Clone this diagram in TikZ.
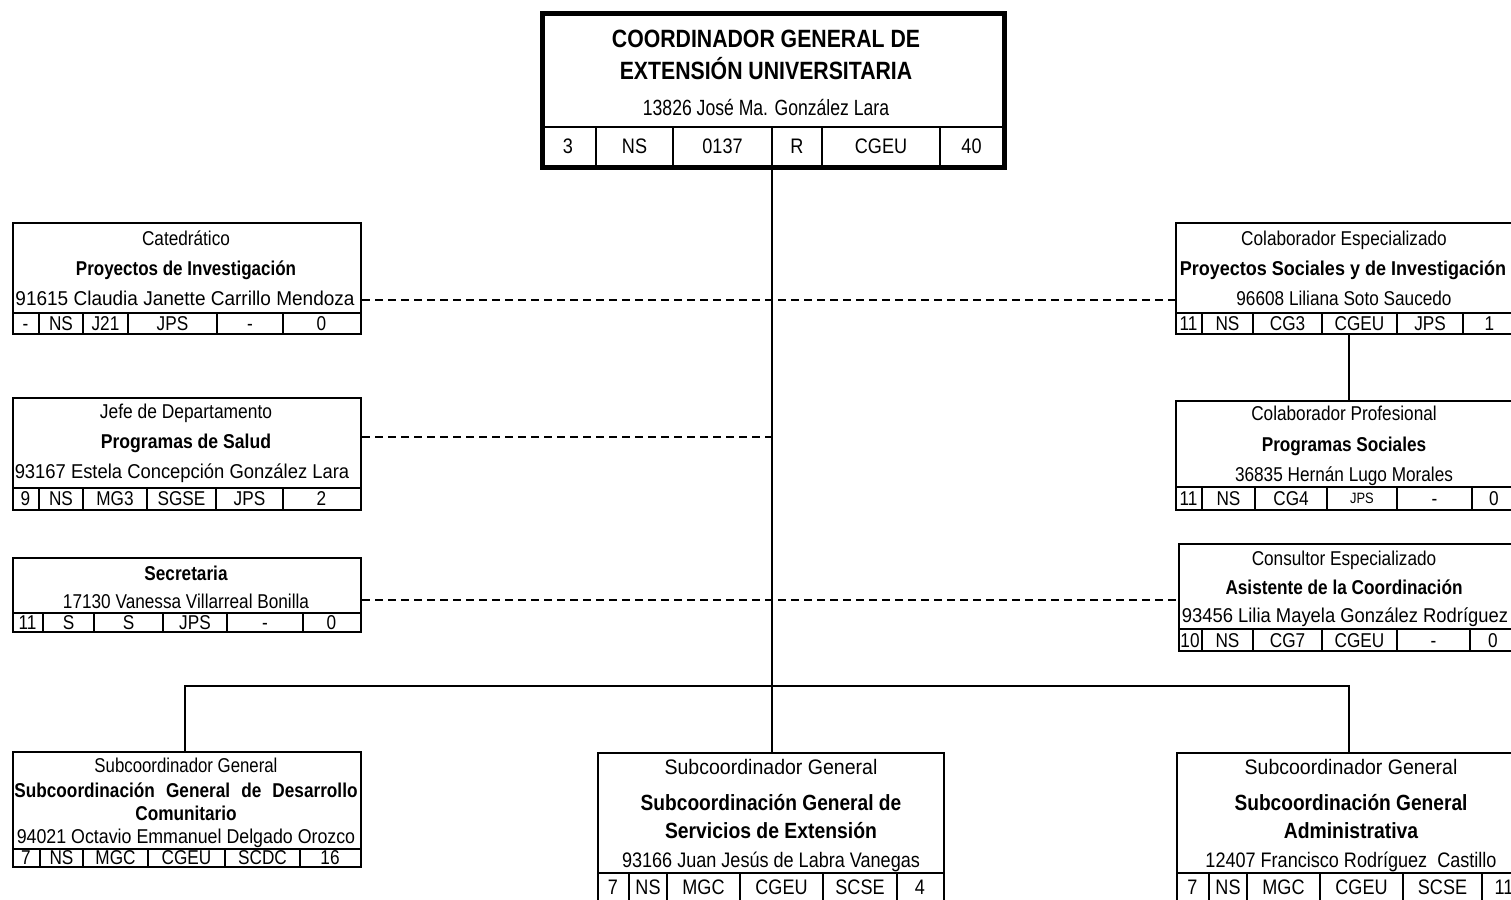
\documentclass[tikz,border=0pt]{standalone}
\usepackage{fontspec}
\setmainfont{Liberation Sans}
\usepackage{graphicx}
\newcommand\T[3]{{\fontsize{#1}{#1}\selectfont\scalebox{#2}[1]{#3}}}
\newcommand\B[3]{{\fontsize{#1}{#1}\selectfont\bfseries\scalebox{#2}[1]{#3}}}
\newcommand\cells[4]{\foreach \x/\t [count=\i] in {#4} {\node[t] (#1-\i) at (\x,#2) {\T{#3}{0.86}{\t}};}}
\newcommand\divs[4]{\foreach \x in {#1} {\draw[cellline] (\x,#2) -- (\x,#3);}}
\begin{document}
\begin{tikzpicture}[x=1pt,y=-1pt,
  box/.style={draw,line width=2pt,inner sep=0pt,anchor=north west},
  t/.style={anchor=base,inner sep=0pt},
  conn/.style={line width=1.5pt},
  dashline/.style={line width=1.3pt,dash pattern=on 8pt off 5pt},
  cellline/.style={line width=2pt}]
\fill[white] (0,0) rectangle (1511,899);
\useasboundingbox (0,0) rectangle (1511,899);

% ---------- boxes ----------
\node[box,line width=5pt,minimum width=462pt,minimum height=154pt] (top) at (540,11) {};
\node[box,minimum width=348pt,minimum height=111pt] (cat) at (12,222) {};
\node[box,minimum width=348pt,minimum height=112pt] (jefe) at (12,397) {};
\node[box,minimum width=348pt,minimum height=74pt] (sec) at (12,557) {};
\node[box,minimum width=341pt,minimum height=111pt] (r1) at (1175,222) {};
\node[box,minimum width=341pt,minimum height=109pt] (r2) at (1175,400) {};
\node[box,minimum width=338pt,minimum height=107pt] (r3) at (1178,543) {};
\node[box,minimum width=348pt,minimum height=115pt] (bl) at (12,751) {};
\node[box,minimum width=346pt,minimum height=150pt] (bc) at (597,752) {};
\node[box,minimum width=350pt,minimum height=150pt] (br) at (1176,752) {};

% ---------- table lines ----------
\draw[cellline] (540,127) -- (1002,127); \divs{596,673,772,822,940}{127}{165}{}
\draw[cellline] (12,313) -- (360,313); \divs{39,83,128,217,283}{313}{333}{}
\draw[cellline] (12,488) -- (360,488); \divs{39,83,147,216,283}{488}{509}{}
\draw[cellline] (12,613) -- (360,613); \divs{43,94,163,227,303}{613}{631}{}
\draw[cellline] (1175,313) -- (1516,313); \divs{1202,1253,1322,1397,1463}{313}{333}{}
\draw[cellline] (1175,487) -- (1516,487); \divs{1202,1255,1327,1397,1472}{487}{509}{}
\draw[cellline] (1178,629) -- (1516,629); \divs{1202,1253,1322,1397,1470}{629}{650}{}
\draw[cellline] (12,849) -- (360,849); \divs{40,83,148,225,300}{849}{866}{}
\draw[cellline] (597,873) -- (943,873); \divs{629,667,740,823,897}{873}{902}{}
\draw[cellline] (1176,873) -- (1526,873); \divs{1209,1247,1320,1403,1482}{873}{902}{}

% ---------- connectors ----------
\coordinate (jc) at (772,686);
\coordinate (hl) at (185,686);
\coordinate (hr) at (1349,686);
\coordinate (ya) at (0,300);
\coordinate (yb) at (0,437);
\coordinate (yc) at (0,600);
\draw[conn] (top.south -| jc) -- (bc.north -| jc);
\draw[conn] (bl.north -| hl) -- (hl) -- (hr) -- (br.north -| hr);
\draw[conn] (r1.south -| hr) -- (r2.north -| hr);
\draw[dashline] (cat.east |- ya) -- (r1.west |- ya);
\draw[dashline] (jefe.east |- yb) -- (jc |- yb);
\draw[dashline] (sec.east |- yc) -- (r3.west |- yc);

% ---------- top box text ----------
\node[t] (tt1) at (766,48) {\B{25}{0.85}{COORDINADOR GENERAL DE}};
\node[t] (tt2) at (766,79) {\B{25}{0.85}{EXTENSIÓN UNIVERSITARIA}};
\node[t] (tt3) at (766,115) {\T{22}{0.8}{13826 José Ma. González Lara}};
\cells{tc}{153.5}{21}{568/3,634.5/NS,722.5/0137,797/R,881/CGEU,971.5/40}

% ---------- Catedrático ----------
\node[t] (c1) at (186,245) {\T{20}{0.86}{Catedrático}};
\node[t] (c2) at (186,275) {\B{20}{0.85}{Proyectos de Investigación}};
\node[t] (c3) at (185,305) {\T{20}{0.95}{91615 Claudia Janette Carrillo Mendoza}};
\cells{cc}{330}{20}{25.5/-,61/NS,105.5/J21,172.5/JPS,250/-,321.5/0}

% ---------- Jefe ----------
\node[t] (j1) at (186,418) {\T{20}{0.87}{Jefe de Departamento}};
\node[t] (j2) at (186,448) {\B{20}{0.88}{Programas de Salud}};
\node[t] (j3) at (182,478) {\T{20}{0.92}{93167 Estela Concepción González Lara}};
\cells{jc}{505.5}{20}{25.5/9,61/NS,115/MG3,181.5/SGSE,249.5/JPS,321.5/2}

% ---------- Secretaria ----------
\node[t] (s1) at (186,580) {\B{20}{0.86}{Secretaria}};
\node[t] (s2) at (186,608) {\T{20}{0.86}{17130 Vanessa Villarreal Bonilla}};
\cells{sc}{629}{20}{27.5/11,68.5/S,128.5/S,195/JPS,265/-,331.5/0}

% ---------- R1 ----------
\node[t] (a1) at (1344,245) {\T{20}{0.86}{Colaborador Especializado}};
\node[t] (a2) at (1343,275) {\B{20}{0.9}{Proyectos Sociales y de Investigación}};
\node[t] (a3) at (1344,305) {\T{20}{0.86}{96608 Liliana Soto Saucedo}};
\cells{ac}{330}{20}{1188.5/11,1227.5/NS,1287.5/CG3,1359.5/CGEU,1430/JPS,1489.5/1}

% ---------- R2 ----------
\node[t] (b1) at (1344,420) {\T{20}{0.86}{Colaborador Profesional}};
\node[t] (b2) at (1344,451) {\B{20}{0.86}{Programas Sociales}};
\node[t] (b3) at (1344,481) {\T{20}{0.86}{36835 Hernán Lugo Morales}};
\cells{bc}{505}{20}{1188.5/11,1228.5/NS,1291/CG4,1434.5/-,1494/0}
\node[t] (b4) at (1362,503) {\T{15}{0.86}{JPS}};

% ---------- R3 ----------
\node[t] (d1) at (1344,565) {\T{20}{0.86}{Consultor Especializado}};
\node[t] (d2) at (1344,594) {\B{20}{0.86}{Asistente de la Coordinación}};
\node[t] (d3) at (1345,622) {\T{20}{0.92}{93456 Lilia Mayela González Rodríguez}};
\cells{dc}{647}{20}{1190/10,1227.5/NS,1287.5/CG7,1359.5/CGEU,1433.5/-,1493/0}

% ---------- bottom left ----------
\node[t] (e1) at (186,772) {\T{20}{0.84}{Subcoordinador General}};
\node[t] (e2) at (186,797) {\fontsize{20}{20}\selectfont\bfseries\scalebox{0.86}[1]{\makebox[399pt][s]{Subcoordinación General de Desarrollo}}};
\node[t] (e3) at (186,820) {\B{20}{0.86}{Comunitario}};
\node[t] (e4) at (186,843) {\T{20}{0.89}{94021 Octavio Emmanuel Delgado Orozco}};
\cells{ec}{864}{20}{26/7,61.5/NS,115.5/MGC,186.5/CGEU,262.5/SCDC,330/16}

% ---------- bottom center ----------
\node[t] (f1) at (771,774.5) {\T{21}{0.93}{Subcoordinador General}};
\node[t] (f2) at (771,810) {\B{22}{0.87}{Subcoordinación General de}};
\node[t] (f3) at (771,838) {\B{22}{0.88}{Servicios de Extensión}};
\node[t] (f4) at (771,867.5) {\T{21}{0.86}{93166 Juan Jesús de Labra Vanegas}};
\cells{fc}{894.5}{21}{613/7,648/NS,703.5/MGC,781.5/CGEU,860/SCSE,920/4}

% ---------- bottom right ----------
\node[t] (g1) at (1351,774.5) {\T{21}{0.93}{Subcoordinador General}};
\node[t] (g2) at (1351,810) {\B{22}{0.87}{Subcoordinación General}};
\node[t] (g3) at (1351,838) {\B{22}{0.88}{Administrativa}};
\node[t] (g4) at (1351,867.5) {\T{21}{0.86}{12407 Francisco Rodríguez\ \ Castillo}};
\cells{gc}{894.5}{21}{1192.5/7,1228/NS,1283.5/MGC,1361.5/CGEU,1442.5/SCSE,1504/11}
\end{tikzpicture}
\end{document}
